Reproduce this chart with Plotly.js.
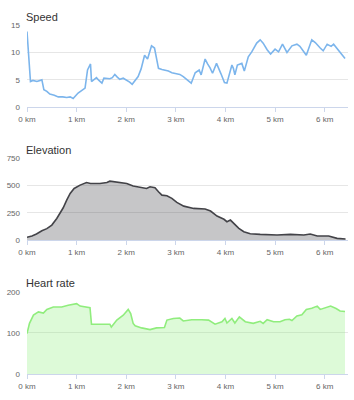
<!DOCTYPE html>
<html>
<head>
<meta charset="utf-8">
<script src="https://cdn.plot.ly/plotly-3.0.1.min.js"></script>
<style>html,body{margin:0;padding:0;background:#fff;}#chart{width:354px;height:400px;}</style>
</head>
<body>
<div id="chart"></div>
<script>
const kmTicks = [0, 1, 2, 3, 4, 5, 6];
const kmTickText = ["0 km", "1 km", "2 km", "3 km", "4 km", "5 km", "6 km"];

const speedKm = [0, 0.03, 0.07, 0.12, 0.2, 0.3, 0.34, 0.4, 0.46, 0.55, 0.63, 0.72, 0.8, 0.87, 0.93, 1.03, 1.1, 1.17, 1.22, 1.28, 1.30, 1.35, 1.40, 1.45, 1.51, 1.55, 1.59, 1.67, 1.72, 1.77, 1.82, 1.87, 1.94, 2.01, 2.07, 2.12, 2.18, 2.24, 2.30, 2.37, 2.43, 2.51, 2.57, 2.65, 2.72, 2.78, 2.85, 2.92, 3.0, 3.08, 3.15, 3.22, 3.31, 3.39, 3.47, 3.51, 3.59, 3.64, 3.69, 3.74, 3.82, 3.91, 3.98, 4.03, 4.09, 4.13, 4.16, 4.19, 4.24, 4.33, 4.38, 4.46, 4.53, 4.63, 4.70, 4.76, 4.84, 4.91, 5.0, 5.07, 5.15, 5.24, 5.34, 5.44, 5.50, 5.56, 5.63, 5.74, 5.81, 5.91, 5.97, 6.05, 6.13, 6.18, 6.24, 6.31, 6.41];
const speedVal = [13.8, 9.9, 4.7, 4.9, 4.7, 5.0, 3.2, 2.9, 2.4, 2.2, 1.9, 1.9, 1.8, 1.9, 1.6, 2.6, 3.1, 3.5, 6.8, 7.9, 4.7, 5.0, 5.4, 4.9, 4.4, 5.3, 5.3, 5.2, 5.4, 6.0, 5.5, 5.1, 5.3, 5.0, 4.6, 4.2, 4.9, 5.6, 7.0, 9.5, 8.8, 11.2, 10.8, 7.1, 6.9, 6.8, 6.6, 6.3, 6.2, 6.0, 5.6, 5.0, 4.4, 6.3, 6.8, 5.9, 8.8, 7.9, 7.2, 6.2, 8.0, 6.1, 4.5, 4.4, 6.2, 7.7, 7.1, 5.9, 7.7, 8.0, 6.6, 9.2, 10.1, 11.7, 12.3, 11.7, 10.5, 9.7, 10.6, 10.1, 11.5, 10.0, 11.2, 11.5, 11.1, 10.4, 9.5, 12.3, 11.8, 10.8, 10.3, 11.5, 11.1, 11.5, 10.8, 9.9, 8.9];

const elevKm = [0, 0.1, 0.19, 0.30, 0.40, 0.5, 0.6, 0.73, 0.80, 0.87, 0.95, 1.07, 1.2, 1.28, 1.47, 1.61, 1.67, 1.87, 2.01, 2.14, 2.28, 2.41, 2.48, 2.58, 2.65, 2.72, 2.82, 2.92, 3.02, 3.16, 3.36, 3.59, 3.70, 3.83, 3.97, 4.03, 4.10, 4.17, 4.27, 4.37, 4.50, 4.70, 5.04, 5.31, 5.58, 5.71, 5.85, 6.08, 6.25, 6.42];
const elevVal = [25, 37, 55, 85, 104, 137, 198, 296, 366, 427, 473, 504, 528, 519, 519, 528, 540, 525, 519, 495, 483, 473, 488, 479, 443, 412, 406, 382, 345, 311, 290, 284, 266, 220, 190, 168, 183, 153, 107, 76, 58, 52, 46, 52, 46, 55, 37, 37, 15, 9];

const hrKm = [0, 0.05, 0.13, 0.23, 0.33, 0.40, 0.53, 0.70, 0.83, 1.0, 1.07, 1.17, 1.27, 1.30, 1.50, 1.67, 1.70, 1.81, 1.94, 2.04, 2.09, 2.14, 2.18, 2.31, 2.48, 2.61, 2.77, 2.82, 2.95, 3.08, 3.15, 3.32, 3.52, 3.66, 3.79, 3.93, 3.99, 4.03, 4.13, 4.19, 4.28, 4.40, 4.56, 4.70, 4.76, 4.84, 4.97, 5.10, 5.20, 5.29, 5.34, 5.44, 5.54, 5.63, 5.74, 5.85, 5.91, 6.04, 6.12, 6.23, 6.31, 6.41];
const hrVal = [98, 123, 143, 151, 148, 157, 163, 163, 167, 171, 165, 163, 161, 121, 121, 121, 114, 131, 143, 157, 147, 123, 117, 112, 108, 112, 113, 131, 135, 136, 129, 132, 132, 131, 121, 127, 135, 124, 135, 124, 139, 127, 123, 128, 123, 132, 127, 127, 132, 133, 130, 141, 144, 157, 160, 165, 157, 163, 165, 159, 153, 152];

const FONT = "Liberation Sans, Arial, sans-serif";
const xDom = [27/354, 348/354];
function xAx(anchor) {
  return {
    domain: xDom, anchor: anchor, range: [0, 6.47],
    tickvals: kmTicks, ticktext: kmTickText,
    showgrid: false, zeroline: false,
    showline: true, linecolor: "#ccd6eb", linewidth: 1,
    ticks: "outside", ticklen: 4, tickcolor: "#ccd6eb", tickwidth: 1,
    tickfont: {family: FONT, size: 8, color: "#666666"},
    fixedrange: true
  };
}
function yAx(anchor, dom, range, dtick) {
  return {
    domain: dom, anchor: anchor, range: range, tick0: 0, dtick: dtick,
    showgrid: true, gridcolor: "#e6e6e6", gridwidth: 1, zeroline: false,
    showline: false, ticks: "", ticklabelstandoff: 6,
    tickfont: {family: FONT, size: 8, color: "#666666"},
    fixedrange: true
  };
}

const traces = [
  {x: speedKm, y: speedVal, xaxis: "x", yaxis: "y", type: "scatter", mode: "lines",
   line: {color: "#7cb5ec", width: 1.6}, hoverinfo: "skip"},
  {x: elevKm, y: elevVal, xaxis: "x2", yaxis: "y2", type: "scatter", mode: "lines",
   fill: "tozeroy", fillcolor: "rgba(67,67,72,0.3)", line: {color: "#434348", width: 1.6}, hoverinfo: "skip"},
  {x: hrKm, y: hrVal, xaxis: "x3", yaxis: "y3", type: "scatter", mode: "lines",
   fill: "tozeroy", fillcolor: "rgba(144,237,125,0.3)", line: {color: "#90ed7d", width: 1.6}, hoverinfo: "skip"}
];

const layout = {
  width: 354, height: 400,
  margin: {l: 0, r: 0, t: 0, b: 0},
  paper_bgcolor: "#ffffff", plot_bgcolor: "rgba(0,0,0,0)",
  showlegend: false,
  font: {family: FONT},
  xaxis: xAx("y"),
  yaxis: yAx("x", [1 - 107.3/400, 1 - 25/400], [0, 15], 5),
  xaxis2: xAx("y2"),
  yaxis2: yAx("x2", [1 - 240/400, 1 - 158.3/400], [0, 750], 250),
  xaxis3: xAx("y3"),
  yaxis3: yAx("x3", [1 - 374/400, 1 - 291.7/400], [0, 200], 100),
  annotations: [
    {text: "Speed", xref: "paper", yref: "paper", x: 24/354, y: 1 - 17/400, xanchor: "left", yanchor: "middle", showarrow: false, font: {family: FONT, size: 11, color: "#333333"}},
    {text: "Elevation", xref: "paper", yref: "paper", x: 24/354, y: 1 - 150/400, xanchor: "left", yanchor: "middle", showarrow: false, font: {family: FONT, size: 11, color: "#333333"}},
    {text: "Heart rate", xref: "paper", yref: "paper", x: 24/354, y: 1 - 283/400, xanchor: "left", yanchor: "middle", showarrow: false, font: {family: FONT, size: 11, color: "#333333"}}
  ]
};

Plotly.newPlot("chart", traces, layout, {displayModeBar: false, staticPlot: true});
</script>
</body>
</html>
